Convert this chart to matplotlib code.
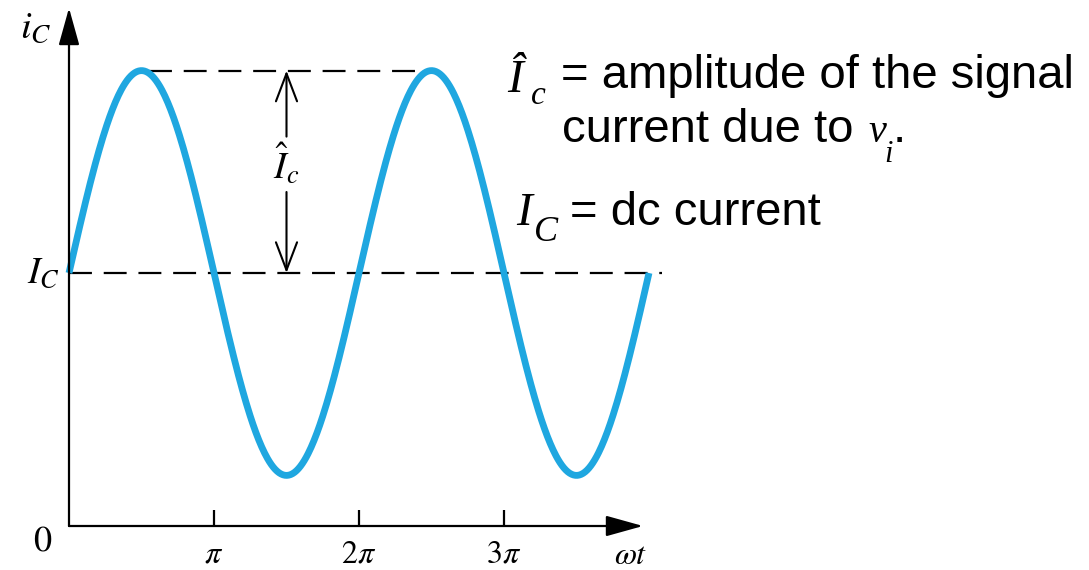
import numpy as np
import matplotlib
matplotlib.use("Agg")
import matplotlib.pyplot as plt

W, H = 1089, 570

# waveform: i_C = I_C + Î_c * sin(ωt), four half-periods
I_DC = 2.0
I_AMP = 1.6
WT_END = 4 * np.pi
tick_pos = [np.pi, 2 * np.pi, 3 * np.pi]
tick_labels = [r"$\pi$", r"$2\pi$", r"$3\pi$"]

# where the origin sits on the canvas and how big the units are
X0, Y0 = 69, 526
PX_PER_PI, PX_PER_UNIT = 145.0, 126.5

CURVE = "#1FA7E0"

plt.rcParams["mathtext.fontset"] = "stix"
plt.rcParams["lines.scale_dashes"] = False


def px(x, y):
    # pixel (from top-left) -> figure fraction
    return x / W, 1 - y / H


fig = plt.figure(figsize=(W / 100, H / 100), dpi=100)
ax = fig.add_axes([0, 0, 1, 1])
ax.set_xlim(-X0 / PX_PER_PI * np.pi, (W - X0) / PX_PER_PI * np.pi)
ax.set_ylim(-(H - Y0) / PX_PER_UNIT, Y0 / PX_PER_UNIT)
ax.axis("off")

wt = np.linspace(0, WT_END, 600)
ic = I_DC + I_AMP * np.sin(wt)

# dashed reference levels
dash = (0, (16.5, 8.5))
ax.plot([0, 4.09 * np.pi], [I_DC, I_DC], color="black", lw=1.6, ls=dash, zorder=1)
ax.plot([0.55 * np.pi, 2.5 * np.pi], [I_DC + I_AMP] * 2, color="black", lw=1.6,
        ls=dash, zorder=1)

ax.plot(wt, ic, color=CURVE, lw=4.9, solid_capstyle="butt", zorder=3)

# axes with arrow heads
y_top = (Y0 - 8) / PX_PER_UNIT
x_end = (643 - X0) / PX_PER_PI * np.pi
axis_arrow = dict(arrowstyle="-|>,head_length=1.15,head_width=0.32",
                  color="black", lw=1.6, mutation_scale=20,
                  shrinkA=0, shrinkB=0)
ax.annotate("", xy=(0, y_top), xytext=(0, 0), arrowprops=axis_arrow)
ax.annotate("", xy=(x_end, 0), xytext=(0, 0), arrowprops=axis_arrow)

tick_h = 16 / PX_PER_UNIT
ax.vlines(tick_pos, 0, tick_h, color="black", lw=1.6)
for xp, lab in zip(tick_pos, tick_labels):
    ax.text(xp, -28 / PX_PER_UNIT, lab, ha="center", va="center", fontsize=23)
ax.text(-27 / PX_PER_PI * np.pi, -17 / PX_PER_UNIT, "0", ha="center",
        va="center", fontsize=26, family="STIXGeneral")
ax.text(x_end - 12 / PX_PER_PI * np.pi, -29 / PX_PER_UNIT, r"$\omega t$",
        ha="center", va="center", fontsize=23)

ax.text(-33 / PX_PER_PI * np.pi, (Y0 - 27) / PX_PER_UNIT, r"$i_C$",
        ha="center", va="center", fontsize=28)
ax.text(-26 / PX_PER_PI * np.pi, I_DC, r"$I_C$", ha="center", va="center",
        fontsize=27)

# amplitude marker between the two levels
x_amp = 1.5 * np.pi
gap_top = I_DC + I_AMP - (135 - 69) / PX_PER_UNIT
gap_bot = I_DC + (273 - 192) / PX_PER_UNIT
amp_arrow = dict(arrowstyle="->,head_length=1.0,head_width=0.38",
                 color="black", lw=1.5, mutation_scale=20,
                 shrinkA=0, shrinkB=0)
ax.annotate("", xy=(x_amp, I_DC + I_AMP), xytext=(x_amp, gap_top),
            arrowprops=amp_arrow)
ax.annotate("", xy=(x_amp, I_DC), xytext=(x_amp, gap_bot),
            arrowprops=amp_arrow)
ax.text(x_amp, (gap_top + gap_bot) / 2, r"$\hat{I}_c$", ha="center",
        va="center", fontsize=27)

# notes on the right
serif = dict(family="Liberation Serif", style="italic", color="black")
sans = dict(family="Liberation Sans", fontsize=34, color="black")

fig.text(*px(507, 92), "Î", fontsize=34, va="baseline", **serif)
fig.text(*px(531, 104), "c", fontsize=24, va="baseline", **serif)
fig.text(*px(561, 88), "= amplitude of the signal", va="baseline", **sans)
fig.text(*px(562, 142), "current due to", va="baseline", **sans)
fig.text(*px(868, 142), "v", fontsize=29, va="baseline", **serif)
fig.text(*px(884, 162), "i", fontsize=22, va="baseline", **serif)
fig.text(*px(893, 142), ".", va="baseline", **sans)

fig.text(*px(516, 225), "I", fontsize=34, va="baseline", **serif)
fig.text(*px(534, 241), "C", fontsize=26, va="baseline", **serif)
fig.text(*px(570, 225), "= dc current", va="baseline", **sans)

fig.savefig("out.png", dpi=100)
